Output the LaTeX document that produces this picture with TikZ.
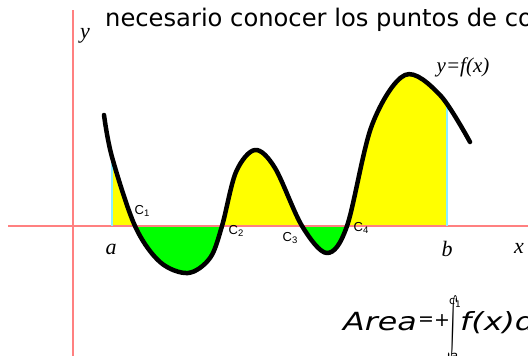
\RequirePackage{fix-cm}
\documentclass[tikz,border=0pt]{standalone}
\usepackage{graphicx}
\usepackage{fontspec}
\newfontfamily\handfont{DejaVu Sans}
\newfontfamily\labelfont{Liberation Sans}
\newfontfamily\timesfont{Liberation Serif}
\definecolor{axisred}{RGB}{255,128,128}
\definecolor{boundcyan}{RGB}{140,240,255}
\definecolor{areayellow}{RGB}{255,255,0}
\definecolor{areagreen}{RGB}{0,255,0}
\newcommand{\csub}[1]{C\raisebox{-2pt}{\fontsize{9.5}{9.5}\selectfont #1}}
\newcommand{\wide}[1]{\scalebox{1.27}[1]{#1}}

\begin{document}
\begin{tikzpicture}[
    x=1pt, y=-1pt,
    every node/.style={inner sep=0pt},
    axis/.style={draw=axisred, line width=2pt},
    bound/.style={draw=boundcyan, line width=2pt},
    curve/.style={line width=4.5pt, line cap=round, line join=round},
    clabel/.style={font=\labelfont\fontsize{13}{13}\selectfont},
    vlabel/.style={font=\timesfont\itshape\fontsize{22}{22}\selectfont},
    title/.style={font=\handfont\fontsize{24.2}{24.2}\selectfont},
    formula/.style={font=\handfont\itshape\fontsize{25}{25}\selectfont},
    mathsign/.style={font=\handfont\fontsize{19}{19}\selectfont},
]
\useasboundingbox (0,0) rectangle (528,356);
\clip (0,0) rectangle (528,356);

\def\curvepath{plot[smooth, tension=0.55] coordinates {(104,115) (112,157) (135,226) (160,262) (188,273) (210,258) (222,226) (236,172) (255,150) (275,168) (302,226) (327,253) (347,226) (372,125) (405,75) (440,95) (470,142)}}

% areas between curve and x axis, from a to b
\begin{scope}
  \clip (112,0) rectangle (447,226);
  \fill[areayellow] \curvepath -- (470,226) -- (104,226) -- cycle;
\end{scope}
\begin{scope}
  \clip (112,226) rectangle (447,356);
  \fill[areagreen] \curvepath -- (470,226) -- (104,226) -- cycle;
\end{scope}

% axes
\coordinate (xl) at (8,226);
\coordinate (xr) at (528,226);
\coordinate (yt) at (73,10);
\coordinate (yb) at (73,356);
\draw[axis] (xl) -- (xr);
\draw[axis] (yt) -- (yb);

% limits a and b
\coordinate (pa) at (112,157);
\coordinate (pb) at (447,107);
\draw[bound] (112,226) -- (pa);
\draw[bound] (447,226) -- (pb);

% the function
\draw[curve] \curvepath;

\node[vlabel] (ylab) at (85,36) {y};
\node[vlabel] (alab) at (111,249) {a};
\node[vlabel] (blab) at (447,249) {b};
\node[vlabel] (xlab) at (519,248) {x};
\node[vlabel, font=\timesfont\itshape\fontsize{21}{21}\selectfont] (flab) at (463,67) {y=f(x)};

\node[clabel] (c1) at (142,211) {\csub{1}};
\node[clabel] (c2) at (236,231) {\csub{2}};
\node[clabel] (c3) at (290,238) {\csub{3}};
\node[clabel] (c4) at (361,228) {\csub{4}};

\node[title, anchor=base west] (txt) at (105,27) {necesario conocer los puntos de co};

% area formula
\node[formula, anchor=base west] (area) at (343,330) {\wide{Area}};
\node[mathsign] (eq) at (426,321) {=};
\node[mathsign] (plus) at (442,321) {+};
\node (intsign) at (453,328) {\resizebox{11pt}{47pt}{$\int$}};
\node[font=\handfont\fontsize{11}{11}\selectfont] (upper) at (455,303) {c\raisebox{-3pt}{\fontsize{9}{9}\selectfont 1}};
\node[font=\handfont\itshape\fontsize{13}{13}\selectfont, anchor=north] (lower) at (454,353) {a};
\node[formula, anchor=base west] (fx) at (460,330) {\wide{f(x)d}};
\end{tikzpicture}
\end{document}
